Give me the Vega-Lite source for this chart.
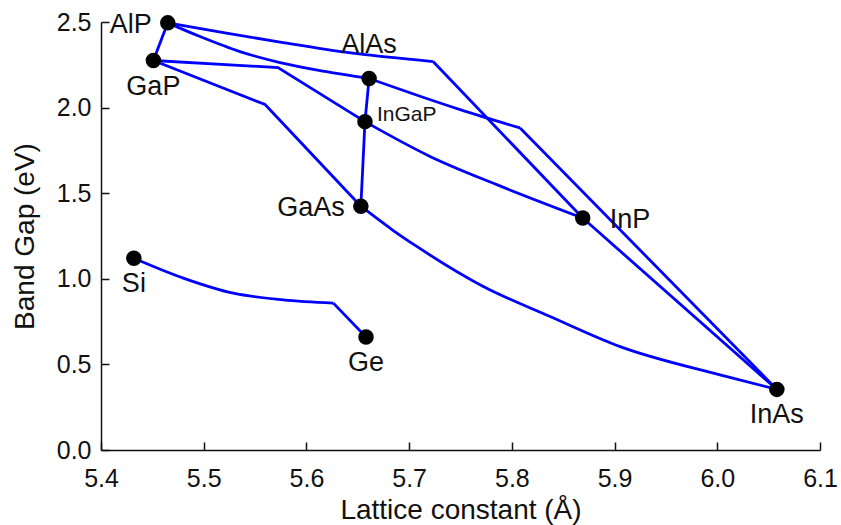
{
  "$schema": "https://vega.github.io/schema/vega-lite/v6.json",
  "autosize": {"type": "none"},
  "width": 719,
  "height": 428,
  "padding": {"left": 101, "top": 22, "right": 21, "bottom": 75},
  "background": "white",
  "config": {
    "view": {"stroke": null},
    "font": "Liberation Sans",
    "axis": {
      "grid": false,
      "domainColor": "#111",
      "domainWidth": 1.5,
      "labelFont": "Liberation Sans",
      "labelFontSize": 25,
      "labelColor": "#111",
      "titleFont": "Liberation Sans",
      "titleFontSize": 28,
      "titleFontWeight": "normal",
      "titleColor": "#111"
    }
  },
  "datasets": {
    "lines": [
      {"line": "AlP-GaP", "i": 0, "x": 5.465, "y": 2.495},
      {"line": "AlP-GaP", "i": 1, "x": 5.451, "y": 2.275},
      {"line": "AlP-InP a", "i": 0, "x": 5.465, "y": 2.495},
      {"line": "AlP-InP a", "i": 1, "x": 5.5207, "y": 2.436},
      {"line": "AlP-InP a", "i": 2, "x": 5.5743, "y": 2.383},
      {"line": "AlP-InP a", "i": 3, "x": 5.6395, "y": 2.322},
      {"line": "AlP-InP a", "i": 4, "x": 5.7233, "y": 2.269},
      {"line": "AlP-InP b", "i": 0, "x": 5.7233, "y": 2.269},
      {"line": "AlP-InP b", "i": 1, "x": 5.869, "y": 1.355},
      {"line": "AlP-AlAs", "i": 0, "x": 5.465, "y": 2.495},
      {"line": "AlP-AlAs", "i": 1, "x": 5.4964, "y": 2.415},
      {"line": "AlP-AlAs", "i": 2, "x": 5.5353, "y": 2.327},
      {"line": "AlP-AlAs", "i": 3, "x": 5.5743, "y": 2.263},
      {"line": "AlP-AlAs", "i": 4, "x": 5.6181, "y": 2.211},
      {"line": "AlP-AlAs", "i": 5, "x": 5.661, "y": 2.17},
      {"line": "GaP-InP a", "i": 0, "x": 5.451, "y": 2.275},
      {"line": "GaP-InP a", "i": 1, "x": 5.5723, "y": 2.234},
      {"line": "GaP-InP a", "i": 2, "x": 5.657, "y": 1.918},
      {"line": "GaP-InP b", "i": 0, "x": 5.657, "y": 1.918},
      {"line": "GaP-InP b", "i": 1, "x": 5.7203, "y": 1.715},
      {"line": "GaP-InP b", "i": 2, "x": 5.7853, "y": 1.55},
      {"line": "GaP-InP b", "i": 3, "x": 5.869, "y": 1.355},
      {"line": "GaP-GaAs", "i": 0, "x": 5.451, "y": 2.275},
      {"line": "GaP-GaAs", "i": 1, "x": 5.5597, "y": 2.018},
      {"line": "GaP-GaAs", "i": 2, "x": 5.653, "y": 1.424},
      {"line": "GaAs-AlAs", "i": 0, "x": 5.653, "y": 1.424},
      {"line": "GaAs-AlAs", "i": 1, "x": 5.657, "y": 1.918},
      {"line": "GaAs-AlAs", "i": 2, "x": 5.661, "y": 2.17},
      {"line": "AlAs-InAs a", "i": 0, "x": 5.661, "y": 2.17},
      {"line": "AlAs-InAs a", "i": 1, "x": 5.7106, "y": 2.066},
      {"line": "AlAs-InAs a", "i": 2, "x": 5.7496, "y": 1.988},
      {"line": "AlAs-InAs a", "i": 3, "x": 5.808, "y": 1.881},
      {"line": "AlAs-InAs b", "i": 0, "x": 5.808, "y": 1.881},
      {"line": "AlAs-InAs b", "i": 1, "x": 6.058, "y": 0.354},
      {"line": "GaAs-InAs", "i": 0, "x": 5.653, "y": 1.424},
      {"line": "GaAs-InAs", "i": 1, "x": 5.6846, "y": 1.282},
      {"line": "GaAs-InAs", "i": 2, "x": 5.7074, "y": 1.189},
      {"line": "GaAs-InAs", "i": 3, "x": 5.7722, "y": 0.955},
      {"line": "GaAs-InAs", "i": 4, "x": 5.8372, "y": 0.78},
      {"line": "GaAs-InAs", "i": 5, "x": 5.9054, "y": 0.604},
      {"line": "GaAs-InAs", "i": 6, "x": 6.0027, "y": 0.439},
      {"line": "GaAs-InAs", "i": 7, "x": 6.058, "y": 0.354},
      {"line": "InP-InAs", "i": 0, "x": 5.869, "y": 1.355},
      {"line": "InP-InAs", "i": 1, "x": 6.058, "y": 0.354},
      {"line": "Si-Ge a", "i": 0, "x": 5.432, "y": 1.12},
      {"line": "Si-Ge a", "i": 1, "x": 5.4801, "y": 1.004},
      {"line": "Si-Ge a", "i": 2, "x": 5.5288, "y": 0.916},
      {"line": "Si-Ge a", "i": 3, "x": 5.5775, "y": 0.877},
      {"line": "Si-Ge a", "i": 4, "x": 5.6262, "y": 0.858},
      {"line": "Si-Ge b", "i": 0, "x": 5.6262, "y": 0.858},
      {"line": "Si-Ge b", "i": 1, "x": 5.658, "y": 0.66}
    ],
    "points": [
      {"name": "AlP", "x": 5.465, "y": 2.495},
      {"name": "GaP", "x": 5.451, "y": 2.275},
      {"name": "AlAs", "x": 5.661, "y": 2.17},
      {"name": "InGaP", "x": 5.657, "y": 1.918},
      {"name": "GaAs", "x": 5.653, "y": 1.424},
      {"name": "InP", "x": 5.869, "y": 1.355},
      {"name": "InAs", "x": 6.058, "y": 0.354},
      {"name": "Si", "x": 5.432, "y": 1.12},
      {"name": "Ge", "x": 5.658, "y": 0.66}
    ]
  },
  "resolve": {"axis": {"x": "independent", "y": "independent"}},
  "layer": [
    {
      "data": {"name": "lines"},
      "encoding": {
        "x": {
          "field": "x", "type": "quantitative",
          "scale": {"domain": [5.4, 6.1], "nice": false, "zero": false},
          "axis": {
            "orient": "bottom",
            "ticks": false,
            "title": "Lattice constant (Å)",
            "values": [5.4, 5.5, 5.6, 5.7, 5.8, 5.9, 6.0, 6.1],
            "format": ".1f",
            "labelPadding": 16,
            "labelFlush": false,
            "labelOverlap": false,
            "titleY": 68,
            "titleBaseline": "alphabetic"
          }
        },
        "y": {
          "field": "y", "type": "quantitative",
          "scale": {"domain": [0, 2.5], "nice": false, "zero": false},
          "axis": {
            "orient": "left",
            "ticks": false,
            "title": "Band Gap (eV)",
            "values": [0, 0.5, 1.0, 1.5, 2.0, 2.5],
            "format": ".1f",
            "labelPadding": 10,
            "labelFlush": false,
            "labelOverlap": false,
            "titleX": -68,
            "titleBaseline": "alphabetic"
          }
        },
        "detail": {"field": "line"},
        "order": {"field": "i", "type": "quantitative"}
      },
      "layer": [
        {
          "transform": [{"filter": {"field": "line", "oneOf": ["AlP-GaP", "AlP-InP b", "GaP-InP a", "GaP-GaAs", "GaAs-AlAs", "AlAs-InAs b", "InP-InAs", "Si-Ge b"]}}],
          "mark": {"type": "line", "color": "#0000ff", "strokeWidth": 2.8, "strokeJoin": "miter"}
        },
        {
          "transform": [{"filter": {"field": "line", "oneOf": ["AlP-InP a", "AlP-AlAs", "GaP-InP b", "AlAs-InAs a", "GaAs-InAs", "Si-Ge a"]}}],
          "mark": {"type": "line", "color": "#0000ff", "strokeWidth": 2.8, "interpolate": "monotone"}
        }
      ]
    },
    {
      "data": {"name": "points"},
      "mark": {"type": "circle", "color": "black", "opacity": 1, "size": 240},
      "encoding": {
        "x": {
          "field": "x", "type": "quantitative",
          "scale": {"domain": [5.4, 6.1], "nice": false, "zero": false},
          "axis": {
            "orient": "bottom", "offset": -8, "title": null, "labels": false, "domain": false,
            "ticks": true, "tickSize": 8, "tickWidth": 1.5, "tickColor": "#111", "zindex": 0,
            "values": [5.4, 5.5, 5.6, 5.7, 5.8, 5.9, 6.0, 6.1]
          }
        },
        "y": {
          "field": "y", "type": "quantitative",
          "scale": {"domain": [0, 2.5], "nice": false, "zero": false},
          "axis": {
            "orient": "left", "offset": -8, "title": null, "labels": false, "domain": false,
            "ticks": true, "tickSize": 8, "tickWidth": 1.5, "tickColor": "#111", "zindex": 0,
            "values": [0, 0.5, 1.0, 1.5, 2.0, 2.5]
          }
        }
      }
    },
    {
      "data": {"name": "points"},
      "encoding": {
        "x": {"field": "x", "type": "quantitative", "scale": {"domain": [5.4, 6.1], "nice": false, "zero": false}, "axis": null},
        "y": {"field": "y", "type": "quantitative", "scale": {"domain": [0, 2.5], "nice": false, "zero": false}, "axis": null},
        "text": {"field": "name"}
      },
      "layer": [
        {
          "transform": [{"filter": {"field": "name", "oneOf": ["AlP", "GaAs"]}}],
          "mark": {"type": "text", "align": "right", "baseline": "middle", "dx": -16, "dy": 2, "fontSize": 27, "font": "Liberation Sans", "color": "#111"}
        },
        {
          "transform": [{"filter": {"field": "name", "oneOf": ["InP"]}}],
          "mark": {"type": "text", "align": "left", "baseline": "middle", "dx": 27, "dy": 2, "fontSize": 27, "font": "Liberation Sans", "color": "#111"}
        },
        {
          "transform": [{"filter": {"field": "name", "oneOf": ["InGaP"]}}],
          "mark": {"type": "text", "align": "left", "baseline": "middle", "dx": 12, "dy": -7, "fontSize": 21, "font": "Liberation Sans", "color": "#111"}
        },
        {
          "transform": [{"filter": {"field": "name", "oneOf": ["GaP", "InAs", "Si", "Ge"]}}],
          "mark": {"type": "text", "align": "center", "baseline": "middle", "dy": 26, "fontSize": 27, "font": "Liberation Sans", "color": "#111"}
        },
        {
          "transform": [{"filter": {"field": "name", "oneOf": ["AlAs"]}}],
          "mark": {"type": "text", "align": "center", "baseline": "middle", "dy": -33, "fontSize": 27, "font": "Liberation Sans", "color": "#111"}
        }
      ]
    }
  ]
}
